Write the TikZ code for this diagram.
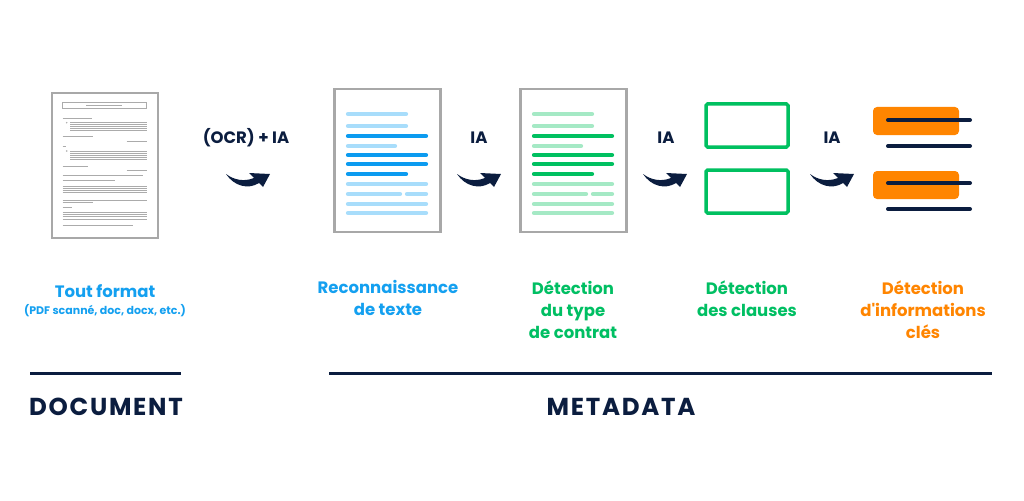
\documentclass[tikz,border=0pt]{standalone}
\usepackage{fontspec}
\setmainfont{Poppins}
\definecolor{navy}{HTML}{0B1D3F}
\definecolor{tblue}{HTML}{14A0F0}
\definecolor{tgreen}{HTML}{00BF63}
\definecolor{torange}{HTML}{FF8500}
\definecolor{docgray}{HTML}{A8A8A8}
\definecolor{lblue}{HTML}{A8DDFB}
\definecolor{dblue}{HTML}{0B9BF0}
\definecolor{lgreen}{HTML}{A5E9C5}
\definecolor{dgreen}{HTML}{00C060}
\definecolor{scan}{HTML}{ABABAB}
\tikzset{
  docbox/.style={draw=docgray, line width=2.5pt, fill=white, inner sep=0pt, minimum width=106pt, minimum height=143pt},
  lbl/.style={font=\fontsize{16.5}{22}\selectfont\bfseries, align=center, inner sep=0pt, anchor=north},
  ialbl/.style={font=\fontsize{16.5}{20}\selectfont\bfseries, text=navy, inner sep=0pt},
  big/.style={font=\fontsize{24.5}{28}\selectfont\bfseries\addfontfeature{LetterSpace=7}, text=navy, inner sep=0pt},
  txtline/.style={line width=4.2pt, line cap=round},
  scanline/.style={draw=scan, line width=0.7pt},
  clausebox/.style={draw=dgreen, line width=3.5pt, rounded corners=1.5pt, fill=white, inner sep=0pt, minimum width=82pt, minimum height=43pt},
  hilite/.style={fill=torange, rounded corners=4pt, inner sep=0pt, minimum width=86pt, minimum height=28pt},
  navyline/.style={draw=navy, line width=4pt, line cap=round},
  rule/.style={draw=navy, line width=3pt},
  swoosh/.pic={
    \fill[navy] (0,0) .. controls (8,6) and (18,8) .. (28,4) -- (23,-1) -- (44,0) -- (37,13) -- (33,9) .. controls (22,16) and (8,12) .. (0,0) -- cycle;
  }
}
\begin{document}
\begin{tikzpicture}[x=1pt,y=-1pt]
\useasboundingbox[fill=white] (0,0) rectangle (1024,500);

% ---------- scanned document ----------
\node[docbox, minimum width=106pt, minimum height=145pt] (scandoc) at (105,165.5) {};
\draw[scanline] (62.7,102.7) rectangle (146.7,108.3);
\draw[scan, line width=1.2pt] (86,105.5) -- (122,105.5);
\draw[scan, line width=1pt] (62.7,118.3) -- (91.7,118.3);
\fill[scan] (66.7,122.7) circle (0.8);
\foreach \yy in {122.7,124.7,126.7,128.7,130.7} \draw[scanline] (70,\yy) -- (146.7,\yy);
\draw[scanline] (62.7,136) -- (93.3,136);
\draw[scan, line width=1pt] (126.7,141.7) -- (146.7,141.7);
\draw[scan, line width=1pt] (62.7,146.7) -- (66,146.7);
\fill[scan] (66.7,151) circle (0.8);
\foreach \yy in {151,153,155,157,159} \draw[scanline] (70,\yy) -- (146.7,\yy);
\draw[scanline] (62.7,166) -- (88.3,166);
\draw[scan, line width=1pt] (126.7,170) -- (146.7,170);
\draw[scanline] (62.7,175) -- (143.3,175);
\draw[scan, line width=1pt] (62.7,180) -- (115,180);
\foreach \yy in {186.7,188.7,190.7,192.7} \draw[scanline] (62.7,\yy) -- (146.7,\yy);
\draw[scan, line width=1pt] (62.7,200) -- (146.7,200);
\draw[scan, line width=1pt] (62.7,202) -- (93.3,202);
\draw[scan, line width=1pt] (62.7,207.7) -- (71.7,207.7);
\foreach \yy in {212.7,214.7,216.7,219} \draw[scanline] (62.7,\yy) -- (146.7,\yy);
\draw[scanline] (62.7,225) -- (133.3,225);

% ---------- OCR document ----------
\node[docbox] (ocrdoc) at (387.5,160.5) {};
\foreach \yy/\xa/\xb/\c in {114/348/406/lblue,126/348/406/lblue,136/348/426/dblue,146/348/395/lblue,155/348/426/dblue,164/348/426/dblue,174/348/406/dblue,184/348/426/lblue,194/348/400/lblue,194/407/426/lblue,204/348/426/lblue,213/348/426/lblue}
  \draw[txtline, \c] (\xa,\yy) -- (\xb,\yy);

% ---------- type document ----------
\node[docbox] (typedoc) at (573.5,160.5) {};
\begin{scope}[shift={(186,0)}]
\foreach \yy/\xa/\xb/\c in {114/348/406/lgreen,126/348/406/lgreen,136/348/426/dgreen,146/348/395/lgreen,155/348/426/dgreen,164/348/426/dgreen,174/348/406/dgreen,184/348/426/lgreen,194/348/400/lgreen,194/407/426/lgreen,204/348/426/lgreen,213/348/426/lgreen}
  \draw[txtline, \c] (\xa,\yy) -- (\xb,\yy);
\end{scope}

% ---------- clauses ----------
\node[clausebox] (clauseA) at (747,125.5) {};
\node[clausebox] (clauseB) at (747,191.5) {};

% ---------- key info ----------
\node[hilite] (keyA) at (916,121) {};
\node[hilite] (keyB) at (916,185) {};
\coordinate (kA1) at (888,120); \coordinate (kA2) at (970,120);
\coordinate (kA3) at (888,146); \coordinate (kA4) at (970,146);
\coordinate (kB1) at (888,183); \coordinate (kB2) at (970,183);
\coordinate (kB3) at (888,209); \coordinate (kB4) at (970,209);
\draw[navyline] (kA1) -- (kA2);
\draw[navyline] (kA3) -- (kA4);
\draw[navyline] (kB1) -- (kB2);
\draw[navyline] (kB3) -- (kB4);

% ---------- IA labels and swooshes ----------
\node[ialbl] (ocrlbl) at (246,137.5) {(OCR) + IA};
\node[ialbl] (ia1) at (479,137.5) {IA};
\node[ialbl] (ia2) at (666,137.5) {IA};
\node[ialbl] (ia3) at (832,137.5) {IA};
\pic at (226,174) {swoosh};
\pic at (457,174) {swoosh};
\pic at (643,174) {swoosh};
\pic at (810,174) {swoosh};

% ---------- captions ----------
\node[lbl, text=tblue] (tout) at (105,284) {Tout format};
\node[inner sep=0pt, anchor=north, text=tblue, font=\fontsize{11}{12}\selectfont\bfseries] (pdf) at (105,304.5) {(PDF scanné, doc, docx, etc.)};
\node[lbl, text=tblue] (reco) at (388,280.5) {Reconnaissance\\de texte};
\node[lbl, text=tgreen] (dtype) at (573,280.5) {Détection\\du type\\de contrat};
\node[lbl, text=tgreen] (dclause) at (747,280.5) {Détection\\des clauses};
\node[lbl, text=torange] (dinfo) at (923,280.5) {Détection\\d\textquotesingle informations\\clés};

% ---------- bottom rules ----------
\coordinate (r1a) at (30,373); \coordinate (r1b) at (181,373);
\coordinate (r2a) at (329,373); \coordinate (r2b) at (992,373);
\draw[rule] (r1a) -- (r1b);
\draw[rule] (r2a) -- (r2b);
\node[big] (docu) at (106,407) {DOCUMENT};
\node[big] (meta) at (621,407) {METADATA};
\end{tikzpicture}
\end{document}
